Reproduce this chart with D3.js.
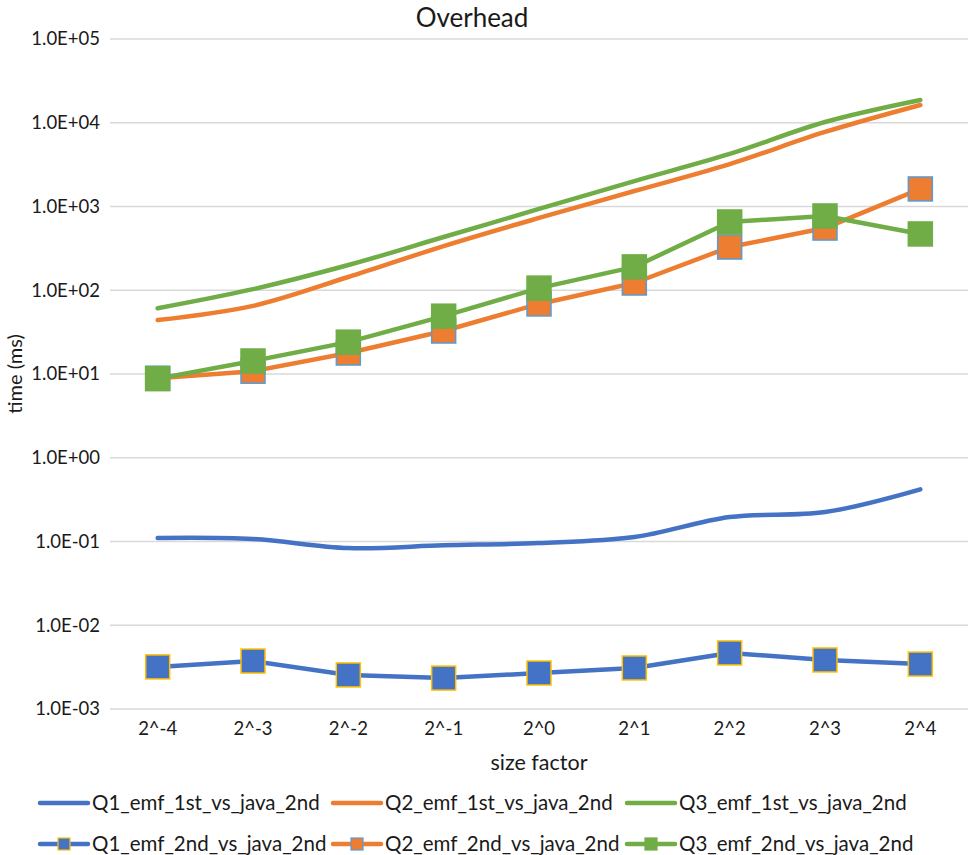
<!DOCTYPE html>
<html>
<head>
<meta charset="utf-8">
<script src="https://cdn.jsdelivr.net/npm/d3@7"></script>
<style>
  body { margin: 0; background: #fff; }
  text { font-family: Lato, "Open Sans", sans-serif; fill: #1a1a1a; }
</style>
</head>
<body>
<div id="container"></div>
<script>
const width = 969;
const height = 855;
const marginTop = 39;
const marginBottom = 146;
const marginLeft = 110;
const marginRight = 1;

// categories and series values (ms)
const sizeFactors = ["2^-4", "2^-3", "2^-2", "2^-1", "2^0", "2^1", "2^2", "2^3", "2^4"];
const q1First = [0.110, 0.107, 0.0836, 0.090, 0.096, 0.113, 0.196, 0.225, 0.42];
const q2First = [44, 65, 144, 337, 730, 1530, 3210, 7760, 16300];
const q3First = [61, 103, 200, 432, 935, 2014, 4240, 10200, 18700];
const q1Second = [0.00318, 0.00374, 0.00255, 0.00234, 0.00269, 0.00309, 0.00467, 0.00385, 0.00344];
const q2Second = [8.9, 10.8, 17.8, 32.6, 68.6, 122, 328, 553, 1620];
const q3Second = [8.8, 14.3, 24, 49, 106, 190, 653, 771, 470];
const yTicks = [1e-3, 1e-2, 1e-1, 1e0, 1e1, 1e2, 1e3, 1e4, 1e5];

const series = [
    { name: "Q1_emf_1st_vs_java_2nd", values: q1First, color: "#4472C4", marker: false },
    { name: "Q2_emf_1st_vs_java_2nd", values: q2First, color: "#ED7D31", marker: false },
    { name: "Q3_emf_1st_vs_java_2nd", values: q3First, color: "#70AD47", marker: false },
    { name: "Q1_emf_2nd_vs_java_2nd", values: q1Second, color: "#4472C4", marker: true, edge: "#FFC000" },
    { name: "Q2_emf_2nd_vs_java_2nd", values: q2Second, color: "#ED7D31", marker: true, edge: "#5B9BD5" },
    { name: "Q3_emf_2nd_vs_java_2nd", values: q3Second, color: "#70AD47", marker: true, edge: "#70AD47" }
];

const x = d3.scaleBand()
    .domain(sizeFactors)
    .range([marginLeft, width - marginRight]);

const y = d3.scaleLog()
    .domain([1e-3, 1e5])
    .range([height - marginBottom, marginTop]);

const svg = d3.create("svg")
    .attr("width", width)
    .attr("height", height);

// horizontal gridlines
svg.append("g")
    .selectAll("line")
    .data(yTicks)
    .join("line")
    .attr("x1", marginLeft)
    .attr("x2", width - marginRight)
    .attr("y1", d => y(d))
    .attr("y2", d => y(d))
    .attr("stroke", "#D9D9D9")
    .attr("stroke-width", 1.3);

// y axis labels
svg.append("g")
    .call(d3.axisLeft(y).tickValues(yTicks).tickSize(0).tickPadding(0)
        .tickFormat(d => {
            const e = Math.round(Math.log10(d));
            return "1.0E" + (e < 0 ? "-" : "+") + String(Math.abs(e)).padStart(2, "0");
        }))
    .attr("transform", `translate(${marginLeft - 10},0)`)
    .call(g => g.select(".domain").remove())
    .selectAll("text")
    .style("font-size", "18.5px")
    .attr("fill", null);

// x axis labels
svg.append("g")
    .attr("transform", `translate(0,${height - marginBottom + 9})`)
    .call(d3.axisBottom(x).tickSize(0).tickPadding(0))
    .call(g => g.select(".domain").remove())
    .selectAll("text")
    .attr("dy", "0.9em")
    .style("font-size", "18.5px")
    .attr("fill", null);
svg.selectAll(".tick text").attr("font-family", null);

const line = d3.line()
    .x((d, i) => x(sizeFactors[i]) + x.bandwidth() / 2)
    .y(d => y(d));
const smoothLine = d3.line()
    .x((d, i) => x(sizeFactors[i]) + x.bandwidth() / 2)
    .y(d => y(d))
    .curve(d3.curveCatmullRom.alpha(0.5));

const markerSize = 24;
series.forEach(s => {
    const g = svg.append("g");
    g.append("path")
        .attr("d", (s.marker ? line : smoothLine)(s.values))
        .attr("fill", "none")
        .attr("stroke", s.color)
        .attr("stroke-width", 4.5)
        .attr("stroke-linecap", "round")
        .attr("stroke-linejoin", "round");
    if (s.marker) {
        g.selectAll("rect")
            .data(s.values)
            .join("rect")
            .attr("x", (d, i) => x(sizeFactors[i]) + x.bandwidth() / 2 - markerSize / 2)
            .attr("y", d => y(d) - markerSize / 2)
            .attr("width", markerSize)
            .attr("height", markerSize)
            .attr("fill", s.color)
            .attr("stroke", s.edge)
            .attr("stroke-width", 1.5);
    }
});

// title
svg.append("text")
    .attr("x", 472)
    .attr("y", 27)
    .attr("text-anchor", "middle")
    .style("font-size", "26px")
    .text("Overhead");

// axis titles
svg.append("text")
    .attr("x", (marginLeft + width - marginRight) / 2)
    .attr("y", 770)
    .attr("text-anchor", "middle")
    .style("font-size", "21.5px")
    .text("size factor");

svg.append("text")
    .attr("transform", `translate(22,${(marginTop + height - marginBottom) / 2}) rotate(-90)`)
    .attr("text-anchor", "middle")
    .style("font-size", "20px")
    .text("time (ms)");

// legend
const legendCols = [40, 333, 627];
const legendRows = [803, 844];
const legend = svg.append("g")
    .selectAll("g")
    .data(series)
    .join("g")
    .attr("transform", (d, i) => `translate(${legendCols[i % 3]},${legendRows[Math.floor(i / 3)]})`);

legend.append("line")
    .attr("x1", 0)
    .attr("x2", 48)
    .attr("stroke", d => d.color)
    .attr("stroke-width", 4.5)
    .attr("stroke-linecap", "round");

legend.filter(d => d.marker)
    .append("rect")
    .attr("x", 18)
    .attr("y", -6)
    .attr("width", 12)
    .attr("height", 12)
    .attr("fill", d => d.color)
    .attr("stroke", d => d.edge)
    .attr("stroke-width", 1.2);

legend.append("text")
    .attr("x", 52)
    .attr("dy", "0.35em")
    .style("font-size", "20.5px")
    .text(d => d.name);

d3.select("#container").append(() => svg.node());
</script>
</body>
</html>
